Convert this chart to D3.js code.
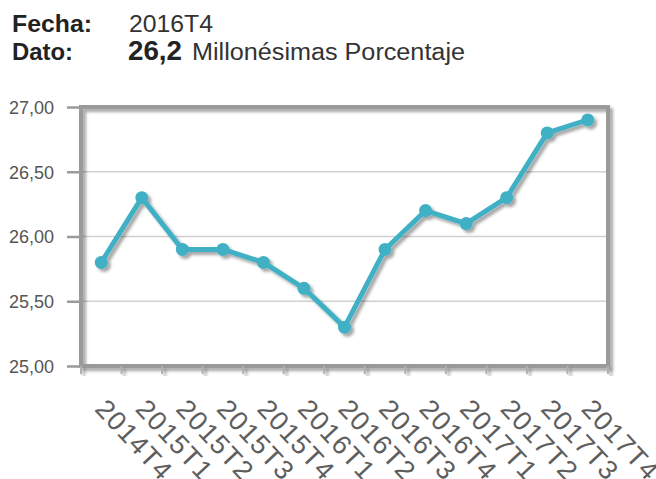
<!DOCTYPE html>
<html><head><meta charset="utf-8">
<script src="https://cdn.jsdelivr.net/npm/d3@7"></script>
<style>
html,body{margin:0;padding:0;background:#fff;}
svg{display:block;}
</style>
</head><body>
<svg id="chart" width="656" height="479"></svg>
<script>
const categories = ["2014T4","2015T1","2015T2","2015T3","2015T4","2016T1","2016T2","2016T3","2016T4","2017T1","2017T2","2017T3","2017T4"];
const values = [25.8,26.3,25.9,25.9,25.8,25.6,25.3,25.9,26.2,26.1,26.3,26.8,26.9];
const yTicks = [25,25.5,26,26.5,27];
const headerDate = "2016T4";
const headerValue = "26,2";
const headerUnit = "Millonésimas Porcentaje";

const svg = d3.select("#chart");
const defs = svg.append("defs");
const f = defs.append("filter").attr("id","sh").attr("x","-10%").attr("y","-10%").attr("width","130%").attr("height","130%");
f.append("feDropShadow").attr("dx",3).attr("dy",3).attr("stdDeviation",1.8).attr("flood-color","#000").attr("flood-opacity",0.35);

// header
const hf = "'Liberation Sans', Arial, sans-serif";
svg.append("text").attr("x",12).attr("y",32).attr("font-family",hf).attr("font-weight","bold").attr("font-size",23.5).attr("fill","#222")
  .attr("textLength",80).attr("lengthAdjust","spacingAndGlyphs").text("Fecha:");
svg.append("text").attr("x",129).attr("y",32).attr("font-family",hf).attr("font-size",23.5).attr("fill","#333")
  .attr("textLength",84).attr("lengthAdjust","spacingAndGlyphs").text(headerDate);
svg.append("text").attr("x",12).attr("y",60).attr("font-family",hf).attr("font-weight","bold").attr("font-size",23.5).attr("fill","#222")
  .attr("textLength",61).attr("lengthAdjust","spacingAndGlyphs").text("Dato:");
svg.append("text").attr("x",128).attr("y",60).attr("font-family",hf).attr("font-weight","bold").attr("font-size",27).attr("fill","#222")
  .attr("textLength",54).attr("lengthAdjust","spacingAndGlyphs").text(headerValue);
svg.append("text").attr("x",192).attr("y",60).attr("font-family",hf).attr("font-size",23.5).attr("fill","#333")
  .attr("textLength",273).attr("lengthAdjust","spacingAndGlyphs").text(headerUnit);

const L = 81, R = 608, T = 107, B = 366;
const x = d3.scalePoint().domain(categories).range([L, R]).padding(0.5);
const xb = d3.scaleBand().domain(categories).range([L, R]);
const y = d3.scaleLinear().domain([25, 27]).range([B, T]);

// gridlines
svg.append("g").selectAll("line").data(yTicks.slice(1,-1)).join("line")
  .attr("x1",L).attr("x2",R).attr("y1",d=>y(d)).attr("y2",d=>y(d))
  .attr("stroke","#d0d0d0").attr("stroke-width",1.5);

// frame with shadow
svg.append("rect").attr("x",L).attr("y",T).attr("width",R-L).attr("height",B-T)
  .attr("fill","none").attr("stroke","#9a9a9a").attr("stroke-width",4).attr("filter","url(#sh)");

// y axis
const yAxis = d3.axisLeft(y).tickValues(yTicks).tickSize(14).tickPadding(13)
  .tickFormat(d => d3.format(".2f")(d).replace(".", ","));
const gy = svg.append("g").attr("transform",`translate(${L},0)`).call(yAxis);
gy.select(".domain").remove();
gy.selectAll(".tick line").attr("stroke","#9a9a9a").attr("stroke-width",2.5);
gy.selectAll(".tick text").attr("font-family",hf).attr("font-size",18).attr("fill","#555").attr("dy","0.36em");

// x axis ticks at band boundaries
const bounds = categories.map(c => xb(c)).concat([R]);
svg.append("g").attr("filter","url(#sh)").selectAll("line").data(bounds).join("line")
  .attr("x1",d=>d).attr("x2",d=>d).attr("y1",B).attr("y2",B+8)
  .attr("stroke","#b0b0b0").attr("stroke-width",2);

// x labels
const xAxis = d3.axisBottom(x).tickSize(0).tickPadding(0);
const gx = svg.append("g").attr("transform",`translate(0,${B})`).call(xAxis);
gx.select(".domain").remove();
gx.selectAll(".tick text")
  .attr("font-family",hf).attr("font-size",27).attr("fill","#5e5e5e")
  .attr("text-anchor","start").attr("dy",0).attr("y",0)
  .attr("letter-spacing",1.2)
  .attr("transform","translate(-8,44) rotate(47)");

// line
const line = d3.line().x((d,i)=>x(categories[i])).y(d=>y(d));
const g = svg.append("g").attr("filter","url(#sh)");
g.append("path").datum(values).attr("d",line).attr("fill","none")
  .attr("stroke","#41b0c4").attr("stroke-width",5).attr("stroke-linejoin","round");
g.selectAll("circle").data(values).join("circle")
  .attr("cx",(d,i)=>x(categories[i])).attr("cy",d=>y(d)).attr("r",6.5).attr("fill","#41b0c4");
</script>
</body></html>
